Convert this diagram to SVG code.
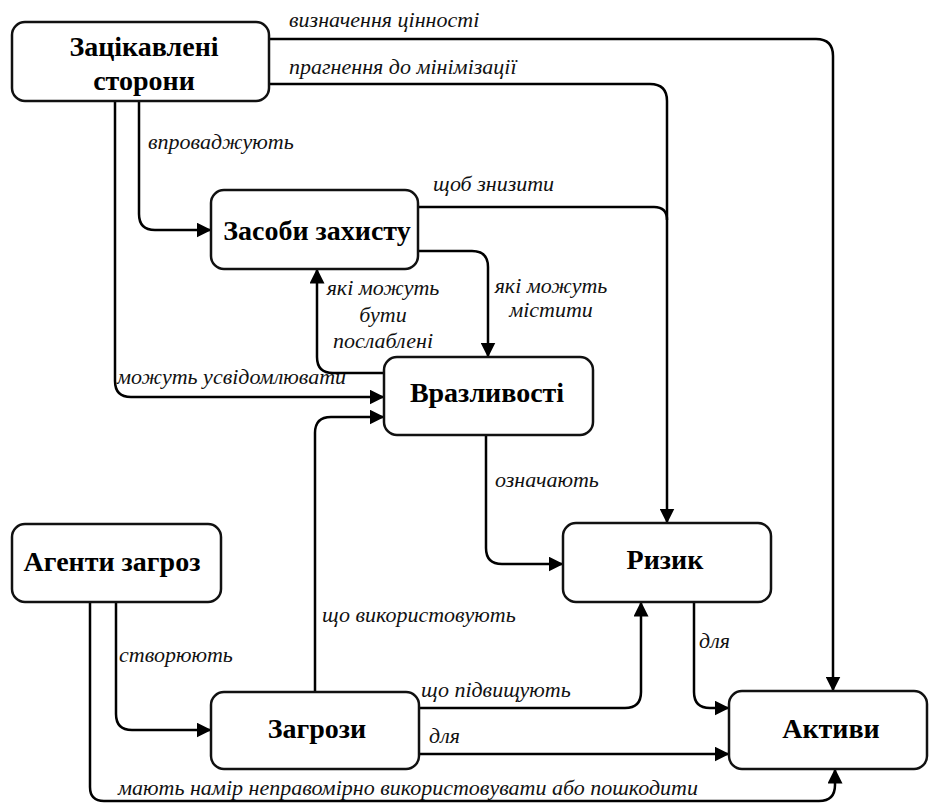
<svg xmlns="http://www.w3.org/2000/svg" width="929" height="803" viewBox="0 0 929 803">
  <defs>
    <marker id="head" viewBox="0 0 10 10" refX="9" refY="5" markerWidth="15" markerHeight="15" markerUnits="userSpaceOnUse" orient="auto">
      <path d="M0,0 L10,5 L0,10 z" fill="#000"/>
    </marker>
  </defs>
  <rect width="929" height="803" fill="#fff"/>

  <!-- connectors: shared stroke set on the group -->
  <g id="connectors" fill="none" stroke="#000" stroke-width="2.5">
    <path marker-end="url(#head)" d="M269,39 H816 Q833,39 833,56 V690"/>
    <path marker-end="url(#head)" d="M269,84 H650 Q667,84 667,101 V522"/>
    <path d="M418,207 H654 Q667,207 667,220"/>
    <path marker-end="url(#head)" d="M139,101 V214 Q139,230 155,230 H210"/>
    <path marker-end="url(#head)" d="M115,101 V381 Q115,397 131,397 H383"/>
    <path marker-end="url(#head)" d="M418,251 H472 Q488,251 488,267 V356"/>
    <path marker-end="url(#head)" d="M384,373 H333 Q317,373 317,357 V270"/>
    <path marker-end="url(#head)" d="M315,692 V433 Q315,417 331,417 H383"/>
    <path marker-end="url(#head)" d="M486,435 V548 Q486,564 502,564 H562"/>
    <path marker-end="url(#head)" d="M116,602 V714 Q116,730 132,730 H210"/>
    <path marker-end="url(#head)" d="M90,602 V787 Q90,801 104,801 H819 Q835,801 835,785 V770"/>
    <path marker-end="url(#head)" d="M419,708 H625 Q641,708 641,692 V603"/>
    <path marker-end="url(#head)" d="M419,754 H728"/>
    <path marker-end="url(#head)" d="M694,602 V692 Q694,708 710,708 H728"/>
  </g>

  <!-- connector labels -->
  <g id="labels" font-size="22" font-style="italic" fill="#111">
    <text style="font-family: 'Liberation Serif'" x="289" y="27">визначення цінності</text>
    <text style="font-family: 'Liberation Serif'" x="289" y="74">прагнення до мінімізації</text>
    <text style="font-family: 'Liberation Serif'" x="148" y="149">впроваджують</text>
    <text style="font-family: 'Liberation Serif'" x="433" y="191">щоб знизити</text>
    <text style="font-family: 'Liberation Serif'" text-anchor="middle" x="551" y="293">які можуть</text>
    <text style="font-family: 'Liberation Serif'" text-anchor="middle" x="551" y="317">містити</text>
    <text style="font-family: 'Liberation Serif'" text-anchor="middle" x="383" y="295">які можуть</text>
    <text style="font-family: 'Liberation Serif'" text-anchor="middle" x="383" y="322">бути</text>
    <text style="font-family: 'Liberation Serif'" text-anchor="middle" x="383" y="348">послаблені</text>
    <text style="font-family: 'Liberation Serif'" x="117" y="384">можуть усвідомлювати</text>
    <text style="font-family: 'Liberation Serif'" x="495" y="487">означають</text>
    <text style="font-family: 'Liberation Serif'" x="322" y="622">що використовують</text>
    <text style="font-family: 'Liberation Serif'" x="699" y="648">для</text>
    <text style="font-family: 'Liberation Serif'" x="119" y="662">створюють</text>
    <text style="font-family: 'Liberation Serif'" x="421" y="697">що підвищують</text>
    <text style="font-family: 'Liberation Serif'" x="429" y="743">для</text>
    <text style="font-family: 'Liberation Serif'" x="118" y="795">мають намір неправомірно використовувати або пошкодити</text>
  </g>

  <!-- nodes: shared box look set on the enclosing group -->
  <g fill="#fff" stroke="#111" stroke-width="2.5">
    <g id="stakeholders">
      <rect x="12" y="22" width="257" height="79" rx="13"/>
      <text style="font-family: 'Liberation Serif'" font-weight="bold" font-size="28" text-anchor="middle" fill="#000" stroke="none" x="144" y="56">Зацікавлені</text>
      <text style="font-family: 'Liberation Serif'" font-weight="bold" font-size="28" text-anchor="middle" fill="#000" stroke="none" x="144" y="90">сторони</text>
    </g>
    <g id="safeguards">
      <rect x="211" y="190" width="207" height="79" rx="13"/>
      <text style="font-family: 'Liberation Serif'" font-weight="bold" font-size="28" text-anchor="middle" fill="#000" stroke="none" x="317" y="240">Засоби захисту</text>
    </g>
    <g id="vulnerabilities">
      <rect x="384" y="357" width="209" height="78" rx="13"/>
      <text style="font-family: 'Liberation Serif'" font-weight="bold" font-size="28" text-anchor="middle" fill="#000" stroke="none" x="487" y="402">Вразливості</text>
    </g>
    <g id="risk">
      <rect x="563" y="523" width="208" height="79" rx="13"/>
      <text style="font-family: 'Liberation Serif'" font-weight="bold" font-size="28" text-anchor="middle" fill="#000" stroke="none" x="665" y="569">Ризик</text>
    </g>
    <g id="threat-agents">
      <rect x="12" y="524" width="209" height="78" rx="13"/>
      <text style="font-family: 'Liberation Serif'" font-weight="bold" font-size="28" text-anchor="middle" fill="#000" stroke="none" x="112" y="571">Агенти загроз</text>
    </g>
    <g id="threats">
      <rect x="211" y="692" width="208" height="77" rx="13"/>
      <text style="font-family: 'Liberation Serif'" font-weight="bold" font-size="28" text-anchor="middle" fill="#000" stroke="none" x="317" y="738">Загрози</text>
    </g>
    <g id="assets">
      <rect x="729" y="691" width="198" height="78" rx="13"/>
      <text style="font-family: 'Liberation Serif'" font-weight="bold" font-size="28" text-anchor="middle" fill="#000" stroke="none" x="831" y="738">Активи</text>
    </g>
  </g>
</svg>
